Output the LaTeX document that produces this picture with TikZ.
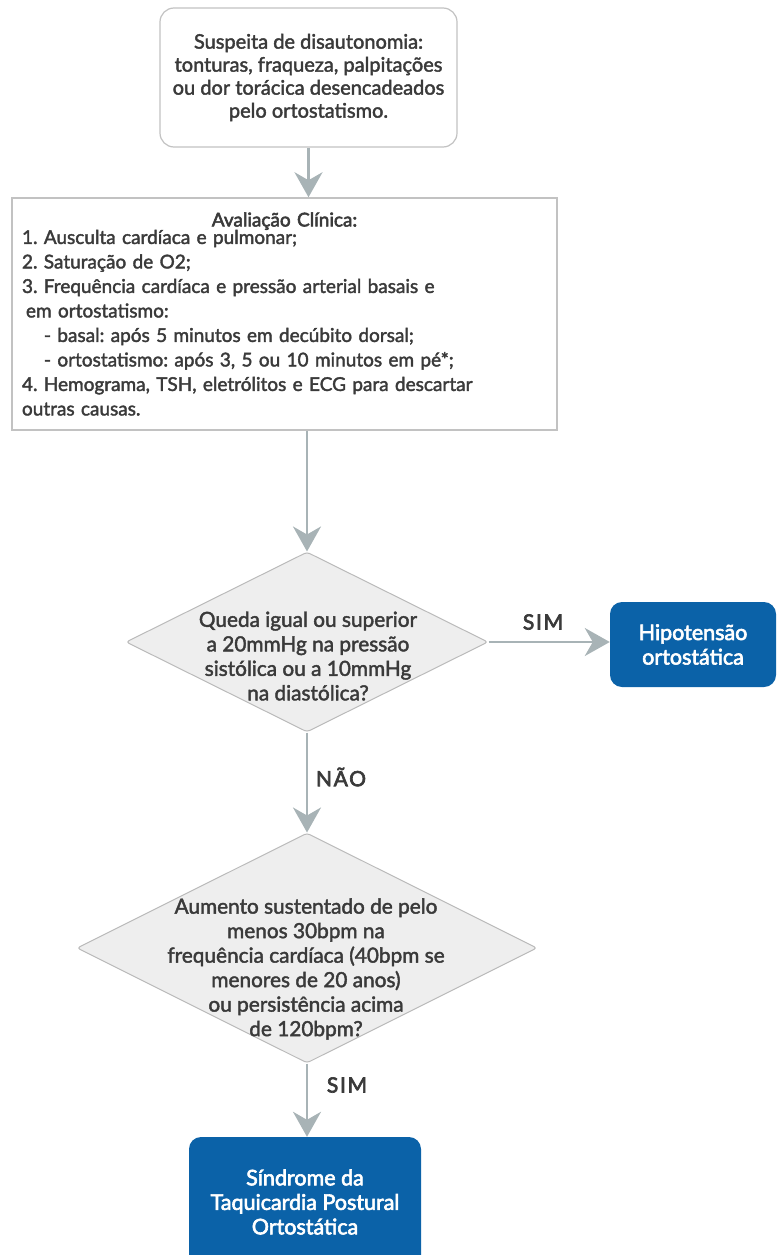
\documentclass[tikz,border=0pt]{standalone}
\usepackage{fontspec}
\setmainfont{Lato}
\newfontfamily\bodyfont{Lato}[FakeBold=2]
\newfontfamily\headfont{Lato}[FakeBold=2.8]
\newfontfamily\tagfont{Lato}[FakeBold=3.2,LetterSpace=8]
\usetikzlibrary{shapes.geometric,arrows.meta}
\frenchspacing

\definecolor{txt}{HTML}{3A3A3A}
\definecolor{boxline}{HTML}{C2C2C2}
\definecolor{dialine}{HTML}{BABABA}
\definecolor{diafill}{HTML}{EEEEEE}
\definecolor{nodeblue}{HTML}{0B62A8}
\definecolor{arrowgray}{HTML}{A8B3B6}

\tikzset{
  bodytext/.style={font=\bodyfont\fontsize{19}{24.5}\selectfont, text=txt},
  startbox/.style={draw=boxline, line width=1.2pt, fill=white, rounded corners=14pt,
    text=txt, font=\bodyfont\fontsize{20}{23}\selectfont,
    align=center, inner sep=0pt, minimum width=297pt, minimum height=139pt},
  listbox/.style={draw=boxline, line width=1.5pt, fill=white, bodytext,
    align=left, inner sep=0pt, text width=525pt,
    minimum width=545pt, minimum height=232pt},
  decision/.style={diamond, draw=dialine, line width=1pt, fill=diafill,
    rounded corners=3pt, inner sep=0pt},
  dectext/.style={text=txt, font=\bodyfont\fontsize{20.8}{24.5}\selectfont,
    align=center, inner sep=0pt},
  resultbox/.style={fill=nodeblue, rounded corners=12pt, text=white,
    font=\headfont\fontsize{21.5}{24.5}\selectfont, align=center, inner sep=0pt},
  flow/.style={draw=arrowgray, line width=2.6pt,
    -{Stealth[length=25pt,width=28pt,inset=8pt]}},
  answer/.style={font=\tagfont\fontsize{21}{21}\selectfont, text=txt, inner sep=0pt}
}

\begin{document}
\begin{tikzpicture}[x=1pt,y=-1pt]
\useasboundingbox (0,0) rectangle (778,1255);

% initial suspicion
\node[startbox] (start) at (308.5,77.5)
  {Suspeita de disautonomia:\\tonturas, fraqueza, palpitações\\ou dor torácica desencadeados\\pelo ortostatismo.};

% clinical assessment
\node[listbox] (eval) at (284.5,314)
  {\makebox[525pt]{\headfont Avaliação Clínica:}\\[-7pt]
   1. Ausculta cardíaca e pulmonar;\\
   2. Saturação de O2;\\
   3. Frequência cardíaca e pressão arterial basais e\\
   \hspace*{4pt}em ortostatismo:\\
   \hspace*{22pt}- basal: após 5 minutos em decúbito dorsal;\\
   \hspace*{22pt}- ortostatismo: após 3, 5 ou 10 minutos em pé*;\\
   4. Hemograma, TSH, eletrólitos e ECG para descartar\\
   outras causas.};

% first decision: blood pressure drop
\node[decision, minimum width=362pt, minimum height=180pt] (bp) at (307,642) {};
\node[dectext] (bptext) at (308,656)
  {Queda igual ou superior\\a 20mmHg na pressão\\sistólica ou a 10mmHg\\na diastólica?};

\node[resultbox, minimum width=166pt, minimum height=85pt] (ho) at (693,644.5)
  {Hipotensão\\ortostática};

% second decision: heart rate rise
\node[decision, minimum width=460pt, minimum height=230pt] (hr) at (307,948) {};
\node[dectext] (hrtext) at (306,969)
  {Aumento sustentado de pelo\\menos 30bpm na\\frequência cardíaca (40bpm se\\menores de 20 anos)\\ou persistência acima\\de 120bpm?};

\node[resultbox, minimum width=232pt, minimum height=130pt] (pots) at (305,1202)
  {Síndrome da\\Taquicardia Postural\\Ortostática};

% connectors
\draw[flow] (start.south) -- (start.south |- eval.north);
\draw[flow] (eval.south -| bp.north) -- (bp.north);
\draw[flow] (bp.east) -- (ho.west |- bp.east);
\draw[flow] (bp.south) -- (hr.north);
\draw[flow] (hr.south) -- (hr.south |- pots.north);

% branch labels
\node[answer] (yes1) at (543,622) {SIM};
\node[answer] (no1) at (341,777) {NÃO};
\node[answer] (yes2) at (347,1085) {SIM};
\end{tikzpicture}
\end{document}
